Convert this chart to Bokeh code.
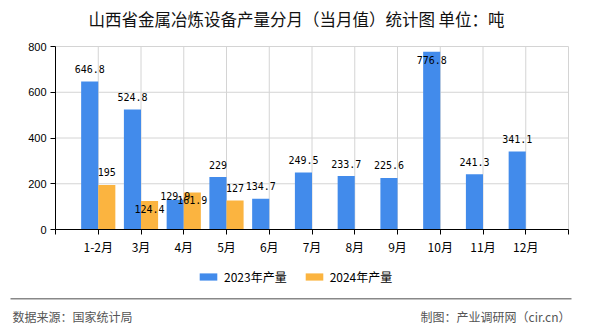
from bokeh.plotting import figure
from bokeh.models import (ColumnDataSource, Range1d, FixedTicker, LabelSet, Label,
                          Legend, LegendItem, BoxAnnotation)
from bokeh.core.properties import value
from bokeh.embed import file_html
from bokeh.resources import INLINE

# ---- data ----
categories = ["1-2月", "3月", "4月", "5月", "6月", "7月", "8月", "9月", "10月", "11月", "12月"]
values_2023 = [646.8, 524.8, 129.9, 229, 134.7, 249.5, 233.7, 225.6, 776.8, 241.3, 341.1]
values_2024 = [195, 124.4, 161.9, 127]
y_ticks = [0, 200, 400, 600, 800]
series_names = ["2023年产量", "2024年产量"]
title_text = "山西省金属冶炼设备产量分月（当月值）统计图 单位：吨"
source_text = "数据来源：国家统计局"
credit_text = "制图：产业调研网（cir.cn）"

BLUE = "#428BEB"
ORANGE = "#FBB440"
GRID = "#d4d4d4"
CJK = "Noto Sans CJK SC"
W, H = 590, 330
# plot-area box in canvas pixels
PL, PR, PT, PB = 55, 568, 46, 229

def fmt(v):
    return ("%g" % v)

# label nudges (pixels) reproducing the reference's label placement
default_dy = 12.5
nudge_2023 = {"4月": 4, "10月": -8}
nudge_2024 = {"3月": -8, "4月": -8}

idx23 = list(range(len(values_2023)))
idx24 = list(range(len(values_2024)))
src23 = ColumnDataSource(dict(
    x=[i - 0.2 for i in idx23], top=values_2023,
    text=[fmt(v) for v in values_2023],
    dy=[nudge_2023.get(categories[i], default_dy) for i in idx23]))
src24 = ColumnDataSource(dict(
    x=[i + 0.2 for i in idx24], top=values_2024,
    text=[fmt(v) for v in values_2024],
    dy=[nudge_2024.get(categories[i], default_dy) for i in idx24]))

# the frame fills the canvas; the ranges are extended so that the
# category axis spans [-1, n] over PL..PR and the value axis spans 0..800 over PB..PT
x0, x1 = -1, len(categories)
ux = (x1 - x0) / (PR - PL)
y0, y1 = y_ticks[0], y_ticks[-1]
uy = (y1 - y0) / (PB - PT)
xr = Range1d(x0 - PL * ux, x1 + (W - PR) * ux)
yr = Range1d(y0 - (H - PB) * uy, y1 + PT * uy)

p = figure(width=W, height=H, output_backend="svg", toolbar_location=None,
           x_range=xr, y_range=yr, min_border=0)
p.outline_line_color = None
p.background_fill_color = "white"
p.border_fill_color = "white"
p.grid.visible = False

# grid lines limited to the plot area
gx = list(range(x0 + 1, x1 + 1))
p.segment(x0=gx, y0=[y0] * len(gx), x1=gx, y1=[y1] * len(gx), line_color=GRID, line_width=1)
gy = y_ticks[1:]
p.segment(x0=[x0] * len(gy), y0=gy, x1=[x1] * len(gy), y1=gy, line_color=GRID, line_width=1)

r23 = p.vbar(x="x", top="top", width=0.4, bottom=0, source=src23,
             fill_color=BLUE, line_color=None)
r24 = p.vbar(x="x", top="top", width=0.4, bottom=0, source=src24,
             fill_color=ORANGE, line_color=None)

for src in (src23, src24):
    p.add_layout(LabelSet(x="x", y="top", text="text", y_offset="dy", source=src,
                          text_align="center", text_baseline="middle",
                          text_font=value("DejaVu Sans Mono"), text_font_size="10px",
                          text_color="black"))

# axes
xt = FixedTicker(ticks=list(range(x0, x1 + 1)))
p.xaxis.ticker = xt
p.xaxis.fixed_location = y0
p.xaxis.bounds = (x0, x1)
overrides = {i: c for i, c in enumerate(categories)}
overrides[x0] = ""
overrides[x1] = ""
p.xaxis.major_label_overrides = overrides
p.xaxis.major_label_text_font = CJK
p.xaxis.major_label_text_font_size = "12px"
p.xaxis.major_label_text_color = "black"
p.xaxis.major_label_standoff = 3
p.xaxis.major_tick_out = 5
p.xaxis.major_tick_in = 0
p.xaxis.minor_tick_line_color = None
p.xaxis.axis_line_color = "black"
p.xaxis.major_tick_line_color = "black"

p.yaxis.ticker = FixedTicker(ticks=y_ticks)
p.yaxis.fixed_location = x0
p.yaxis.bounds = (y0, y1)
p.yaxis.major_label_text_font = "Liberation Sans"
p.yaxis.major_label_text_font_size = "11px"
p.yaxis.major_label_text_color = "black"
p.yaxis.major_label_standoff = 4
p.yaxis.major_tick_out = 5
p.yaxis.major_tick_in = 0
p.yaxis.minor_tick_line_color = None
p.yaxis.axis_line_color = "black"
p.yaxis.major_tick_line_color = "black"

# screen coordinates below are measured from the canvas bottom-left
p.add_layout(Label(x=W / 2 + 1, y=H - 18, x_units="screen", y_units="screen",
                   text=title_text, text_align="center", text_baseline="middle",
                   text_font=CJK, text_font_size="16.5px", text_color="#111111"))

legend = Legend(items=[LegendItem(label=series_names[0], renderers=[r23]),
                       LegendItem(label=series_names[1], renderers=[r24])],
                orientation="horizontal", location=(197, H - 285),
                glyph_width=22, glyph_height=9, label_standoff=5, spacing=16,
                padding=0, margin=0, border_line_color=None,
                background_fill_alpha=0,
                label_text_font=CJK, label_text_font_size="12px",
                label_text_color="black")
p.add_layout(legend, "center")

p.add_layout(BoxAnnotation(left=10, right=571, top=H - 297.5, bottom=H - 299,
                           left_units="screen", right_units="screen",
                           top_units="screen", bottom_units="screen",
                           fill_color="#888888", fill_alpha=1, line_color=None))

p.add_layout(Label(x=12, y=H - 316, x_units="screen", y_units="screen",
                   text=source_text, text_align="left", text_baseline="middle",
                   text_font=CJK, text_font_size="12px", text_color="#555555"))
p.add_layout(Label(x=570, y=H - 316, x_units="screen", y_units="screen",
                   text=credit_text, text_align="right", text_baseline="middle",
                   text_font=CJK, text_font_size="12px", text_color="#555555"))

open("out.html", "w").write(file_html(p, INLINE))
